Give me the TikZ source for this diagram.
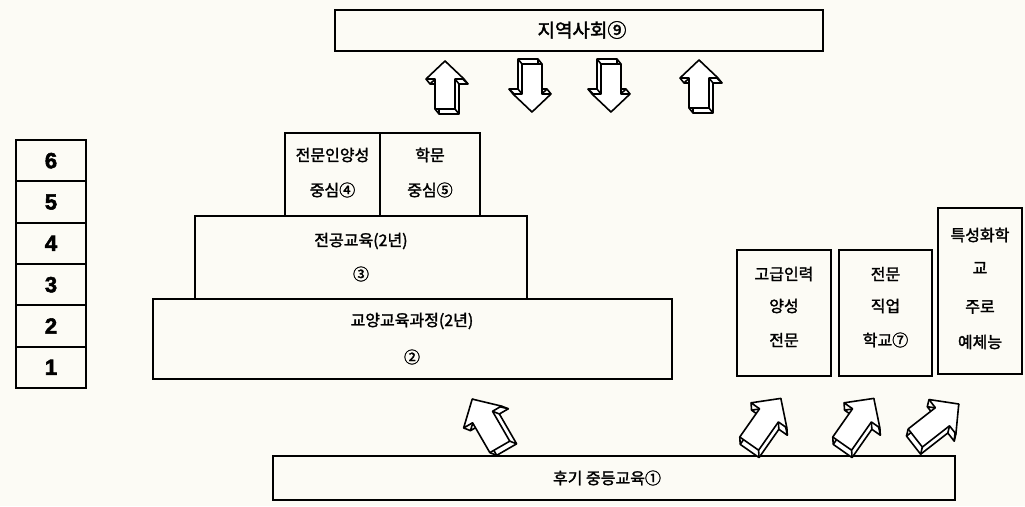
\documentclass[tikz,border=0pt]{standalone}
\usepackage{fontspec}
\setmainfont{Liberation Sans}
\newfontfamily\kr{Noto Sans CJK KR}[FakeBold=1.8]
\newfontfamily\lvlfont{Liberation Sans Bold}[FakeBold=2.5]
\definecolor{paper}{RGB}{252,251,245}
\begin{document}
\begin{tikzpicture}[x=1pt,y=1pt,
  box/.style={draw, line width=2.2pt, inner sep=0pt},
  lbl/.style={font=\kr\fontsize{16}{18}\selectfont, inner sep=0pt, anchor=center},
  biglbl/.style={lbl, font=\kr\fontsize{19}{21}\selectfont},
  lvl/.style={draw, line width=2.2pt, minimum width=70pt, minimum height=41.33pt, inner sep=0pt, font=\lvlfont\fontsize{22}{24}\selectfont},
  arrow3d/.pic={
    \begin{scope}[shift={(4,-5)}]
      \draw[fill=white, line width=1.6pt, line join=round]
        (-10,-24) -- (10,-24) -- (10,6) -- (19,6) -- (0,24) -- (-19,6) -- (-10,6) -- cycle;
    \end{scope}
    \foreach \x/\y in {-10/-24,10/-24,10/6,19/6,0/24,-19/6,-10/6}
      \draw[line width=1.6pt] (\x,\y) -- ++(4,-5);
    \draw[fill=white, line width=1.6pt, line join=round]
      (-10,-24) -- (10,-24) -- (10,6) -- (19,6) -- (0,24) -- (-19,6) -- (-10,6) -- cycle;
  }]
\useasboundingbox[fill=paper] (0,0) rectangle (1025,-506);

% boxes
\node[box, minimum width=488pt, minimum height=41pt] (soc) at (579,-30.5) {};
\node[box, minimum width=95pt, minimum height=83pt] (b4) at (332.5,-174.5) {};
\node[box, minimum width=100pt, minimum height=83pt] (b5) at (430,-174.5) {};
\node[box, minimum width=332pt, minimum height=83pt] (b3) at (361,-257.5) {};
\node[box, minimum width=519pt, minimum height=80pt] (b2) at (412.5,-339) {};
\node[box, minimum width=94pt, minimum height=126pt] (b6) at (784,-313) {};
\node[box, minimum width=93pt, minimum height=126pt] (b7) at (885.5,-313) {};
\node[box, minimum width=84pt, minimum height=166pt] (b8) at (980,-291) {};
\node[box, minimum width=682pt, minimum height=44pt] (b1) at (614,-478) {};

% level column
\node[lvl] (l6) at (51,-160.67) {6};
\node[lvl] (l5) at (51,-202) {5};
\node[lvl] (l4) at (51,-243.33) {4};
\node[lvl] (l3) at (51,-284.67) {3};
\node[lvl] (l2) at (51,-326) {2};
\node[lvl] (l1) at (51,-367.33) {1};

% labels
\node[biglbl] (t9) at (582,-30) {지역사회⑨};
\node[lbl] (t4a) at (332.5,-155) {전문인양성};
\node[lbl] (t4b) at (332.5,-190) {중심④};
\node[lbl] (t5a) at (430,-155) {학문};
\node[lbl] (t5b) at (430,-190) {중심⑤};
\node[lbl] (t3a) at (361,-241) {전공교육(2년)};
\node[lbl] (t3b) at (361,-274) {③};
\node[lbl] (t2a) at (412,-321) {교양교육과정(2년)};
\node[lbl] (t2b) at (412,-357) {②};
\node[lbl] (t6a) at (784,-274) {고급인력};
\node[lbl] (t6b) at (784,-306) {양성};
\node[lbl] (t6c) at (784,-340) {전문};
\node[lbl] (t7a) at (885.5,-274) {전문};
\node[lbl] (t7b) at (885.5,-306) {직업};
\node[lbl] (t7c) at (885.5,-340) {학교⑦};
\node[lbl] (t8a) at (980,-235) {특성화학};
\node[lbl] (t8b) at (980,-268) {교};
\node[lbl] (t8c) at (980,-307) {주로};
\node[lbl] (t8d) at (980,-342) {예체능};
\node[lbl] (t1) at (607,-478) {후기 중등교육①};

% 3D arrows between the community and the universities
\pic at (445,-85) {arrow3d};
\pic[rotate=180] at (532,-88) {arrow3d};
\pic[rotate=180] at (611,-88) {arrow3d};
\pic at (699,-84) {arrow3d};

% 3D arrows from secondary education
\pic[rotate=30, scale=1.15] at (486,-423) {arrow3d};
\pic[rotate=-35, scale=1.15] at (765,-421) {arrow3d};
\pic[rotate=-35, scale=1.15] at (858,-421) {arrow3d};
\pic[rotate=-52, scale=1.15] at (937,-421) {arrow3d};
\end{tikzpicture}
\end{document}
